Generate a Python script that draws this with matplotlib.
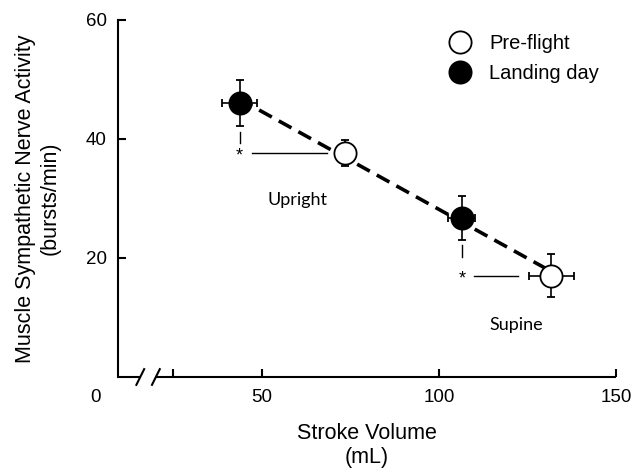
import matplotlib.pyplot as plt
import numpy as np
from matplotlib.lines import Line2D

# --- datos ---
pre_x = [73.6, 131.7]
pre_y = [37.6, 17.0]
pre_xerr = [2.0, 6.3]
pre_yerr = [2.2, 3.6]

land_x = [43.8, 106.5]
land_y = [46.0, 26.7]
land_xerr = [5.0, 3.8]
land_yerr = [3.9, 3.7]

posture_labels = ["Upright", "Supine"]
posture_label_x = [60.1, 121.9]
posture_label_y = [29.7, 8.7]

x_ticks = [25, 50, 100, 150]
x_ticklabels = ["", "50", "100", "150"]
y_ticks = [20, 40, 60]

plt.rcParams['font.family'] = ['Liberation Sans', 'DejaVu Sans']

fig = plt.figure(figsize=(6.34, 4.71), dpi=100)
ax = fig.add_axes([0.186, 0.1996, 0.786, 0.758])
x0 = 9.5
ax.set_xlim(x0, 150)
ax.set_ylim(0, 60)

# linea de regresion (discontinua)
all_x = np.array(land_x + pre_x)
all_y = np.array(land_y + pre_y)
slope, inter = np.polyfit(all_x, all_y, 1)
fx = np.array([all_x.min(), all_x.max()])
ax.plot(fx, slope * fx + inter, color='black', lw=2.6, dashes=(4, 2.2), zorder=2)

# marcas de significancia
for i in range(2):
    ax.plot([land_x[i], land_x[i]], [land_y[i] - land_yerr[i] - 0.9, land_y[i] - land_yerr[i] - 2.8],
            color='black', lw=1.0, zorder=2)
    ax.text(land_x[i], pre_y[i] - 0.5, "*", ha='center', va='center', fontsize=13, zorder=3)
    ax.plot([land_x[i] + 3.4, pre_x[i] - pre_xerr[i] - 3.2], [pre_y[i], pre_y[i]],
            color='black', lw=1.0, zorder=2)

ax.errorbar(pre_x, pre_y, xerr=pre_xerr, yerr=pre_yerr, fmt='o', ms=16, mfc='white',
            mec='black', mew=1.3, ecolor='black', elinewidth=1.2, capsize=3.2, capthick=1.2, zorder=4)
ax.errorbar(land_x, land_y, xerr=land_xerr, yerr=land_yerr, fmt='o', ms=16, mfc='black',
            mec='black', mew=1.3, ecolor='black', elinewidth=1.2, capsize=3.2, capthick=1.2, zorder=4)

for lbl, tx, ty in zip(posture_labels, posture_label_x, posture_label_y):
    ax.text(tx, ty, lbl, ha='center', va='center', fontsize=13, family=['Lato', 'DejaVu Sans'])

# ejes
ax.spines['top'].set_visible(False)
ax.spines['right'].set_visible(False)
ax.spines['bottom'].set_visible(False)
ax.spines['left'].set_linewidth(1.5)
ax.set_yticks(y_ticks)
ax.set_xticks(x_ticks)
ax.set_xticklabels(x_ticklabels)
ax.tick_params(axis='both', direction='in', length=6, width=1.5, labelsize=13.5)
ax.tick_params(axis='y', pad=8)
ax.tick_params(axis='x', pad=9)

# eje x con corte
trans = ax.get_xaxis_transform()
ax.plot([x0, 15.6], [0, 0], color='black', lw=1.5, transform=trans, clip_on=False, solid_capstyle='butt')
ax.plot([20.0, 150], [0, 0], color='black', lw=1.5, transform=trans, clip_on=False, solid_capstyle='butt')
for sx in [15.8, 20.2]:
    ax.plot([sx - 1.1, sx + 1.1], [-0.022, 0.022], color='black', lw=1.5, transform=trans, clip_on=False)
ax.text(x0 - 6.2, -0.057, "0", transform=trans, ha='center', va='center', fontsize=13.5)

ax.set_xlabel("Stroke Volume\n(mL)", fontsize=15.5, labelpad=12, linespacing=1.2)
ax.set_ylabel("Muscle Sympathetic Nerve Activity\n(bursts/min)", fontsize=15.5, labelpad=18,
              linespacing=1.25)

handles = [Line2D([], [], ls='none', marker='o', ms=16, mfc='white', mec='black', mew=1.3),
           Line2D([], [], ls='none', marker='o', ms=16, mfc='black', mec='black', mew=1.3)]
ax.legend(handles, ["Pre-flight", "Landing day"], loc='upper left', bbox_to_anchor=(0.61, 1.012),
          frameon=False, fontsize=14.5, handletextpad=0.45, labelspacing=0.55)

fig.savefig("out.png", dpi=100)
